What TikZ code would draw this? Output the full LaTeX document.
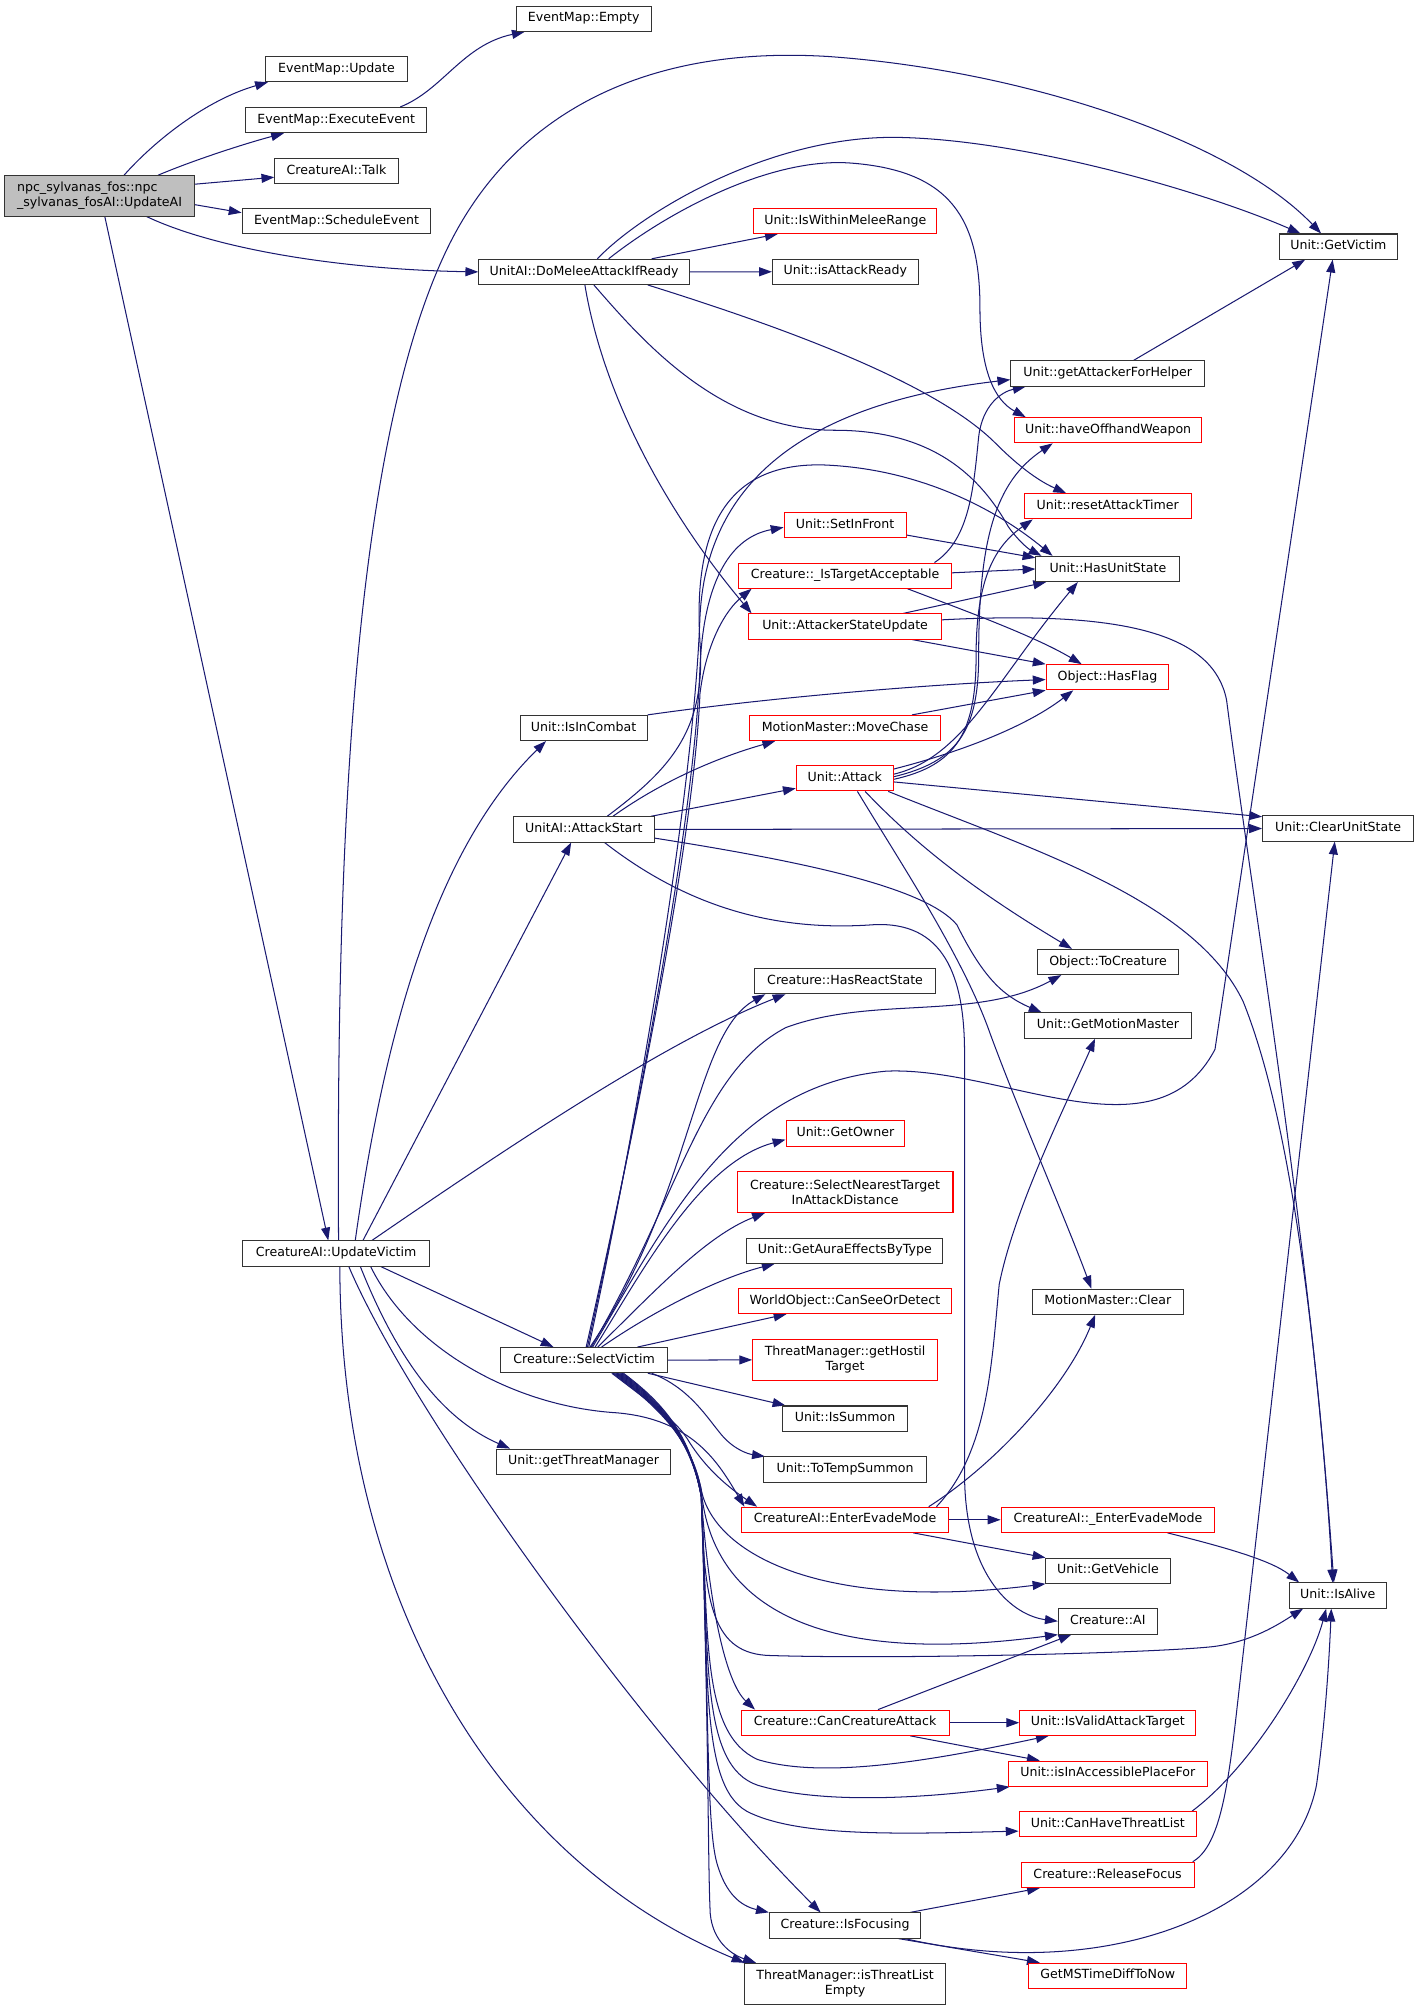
\documentclass[tikz,border=0pt]{standalone}
\usepackage{fontspec}
\setmainfont{DejaVu Sans}
\usetikzlibrary{arrows.meta}
\definecolor{edgec}{HTML}{191970}
\definecolor{rootgray}{HTML}{BFBFBF}
\definecolor{boxline}{HTML}{333333}
\pgfdeclarelayer{edgelayer}
\pgfsetlayers{edgelayer,main}
\tikzset{
  nb/.style={draw=boxline, line width=0.8pt, fill=white, font=\fontsize{9.8}{11.6}\selectfont,
    minimum height=19.6pt, inner xsep=2pt, inner ysep=0pt, text height=7.2pt, text depth=2.2pt},
  nr/.style={nb, draw=red},
  nbtwo/.style={draw=boxline, line width=0.8pt, fill=white, font=\fontsize{9.8}{11.6}\selectfont,
    align=center, minimum height=31.6pt, inner xsep=2pt, inner ysep=2pt},
  nrtwo/.style={nbtwo, draw=red},
  rootbox/.style={nbtwo, fill=rootgray, align=left, inner xsep=8.5pt, minimum height=31.4pt},
  e/.style={draw=edgec, line width=0.8pt, -{Triangle[length=10pt,width=7pt]}}
}
\begin{document}
\begin{tikzpicture}[x=1pt,y=-1pt]
\useasboundingbox (0,0) rectangle (1105,1565);
% nodes
\node[rootbox, minimum width=148pt] (A) at (77.5,152.5) {npc\_sylvanas\_fos::npc\\\_sylvanas\_fosAI::UpdateAI};
\node[nb, minimum width=110pt] (EU) at (262,53.8) {EventMap::Update};
\node[nb, minimum width=140.5pt] (EE) at (261.75,93.5) {EventMap::ExecuteEvent};
\node[nb, minimum width=96pt] (CT) at (262,133) {CreatureAI::Talk};
\node[nb, minimum width=147pt] (ES) at (262,172.3) {EventMap::ScheduleEvent};
\node[nb, minimum width=105pt] (EM) at (454.5,14.5) {EventMap::Empty};
\node[nb, minimum width=164pt] (D) at (454.8,211.7) {UnitAI::DoMeleeAttackIfReady};
\node[nr, minimum width=142.4pt] (WMR) at (658.2,172) {Unit::IsWithinMeleeRange};
\node[nb, minimum width=113.5pt] (IAR) at (658.2,211.6) {Unit::isAttackReady};
\node[nb, minimum width=92pt] (GV) at (1042,192) {Unit::GetVictim};
\node[nb, minimum width=151pt] (GAH) at (862.5,290.8) {Unit::getAttackerForHelper};
\node[nr, minimum width=145.6pt] (HOW) at (862.8,335) {Unit::haveOffhandWeapon};
\node[nr, minimum width=130pt] (RAT) at (862.5,394.2) {Unit::resetAttackTimer};
\node[nr, minimum width=95pt] (SIF) at (658,408.8) {Unit::SetInFront};
\node[nb, minimum width=112pt] (HUS) at (862.6,443) {Unit::HasUnitState};
\node[nr, minimum width=166pt] (ITA) at (658,448.2) {Creature::\_IsTargetAcceptable};
\node[nr, minimum width=150pt] (ASU) at (658,487.8) {Unit::AttackerStateUpdate};
\node[nr, minimum width=95.5pt] (HF) at (862.3,527.3) {Object::HasFlag};
\node[nb, minimum width=99pt] (IIC) at (454.4,566.8) {Unit::IsInCombat};
\node[nr, minimum width=149pt] (MC) at (658,566.8) {MotionMaster::MoveChase};
\node[nr, minimum width=75.4pt] (AT) at (657.7,606) {Unit::Attack};
\node[nb, minimum width=110pt] (S) at (454.6,645.8) {UnitAI::AttackStart};
\node[nb, minimum width=117.5pt] (CUS) at (1041.8,645.1) {Unit::ClearUnitState};
\node[nb, minimum width=109.3pt] (TC) at (862.7,749) {Object::ToCreature};
\node[nb, minimum width=141pt] (HRS) at (658,763.9) {Creature::HasReactState};
\node[nb, minimum width=130.6pt] (GMM) at (862.7,798.5) {Unit::GetMotionMaster};
\node[nr, minimum width=92.4pt] (GO) at (658.2,882.5) {Unit::GetOwner};
\node[nrtwo, minimum width=168pt] (SNT) at (658,928.2) {Creature::SelectNearestTarget\\InAttackDistance};
\node[nb, minimum width=152.5pt] (GAE) at (657.8,973.8) {Unit::GetAuraEffectsByType};
\node[nr, minimum width=166.3pt] (CSD) at (657.9,1013) {WorldObject::CanSeeOrDetect};
\node[nb, minimum width=117pt] (MMC) at (862.6,1013.5) {MotionMaster::Clear};
\node[nrtwo, minimum width=144pt] (GHT) at (658,1058.8) {ThreatManager::getHostil\\Target};
\node[nb, minimum width=145.4pt] (V) at (261.7,976) {CreatureAI::UpdateVictim};
\node[nb, minimum width=130pt] (SV) at (454.8,1059) {Creature::SelectVictim};
\node[nb, minimum width=97.3pt] (IS) at (658,1104.5) {Unit::IsSummon};
\node[nb, minimum width=135.8pt] (GTM) at (454.4,1138.1) {Unit::getThreatManager};
\node[nb, minimum width=126.7pt] (TTS) at (658,1144.2) {Unit::ToTempSummon};
\node[nr, minimum width=161pt] (EEM) at (658,1183.3) {CreatureAI::EnterEvadeMode};
\node[nr, minimum width=166.5pt] (EEMB) at (862.7,1183.3) {CreatureAI::\_EnterEvadeMode};
\node[nb, minimum width=96.6pt] (GVh) at (862.7,1223) {Unit::GetVehicle};
\node[nb, minimum width=75.3pt] (IA) at (1041.6,1242.3) {Unit::IsAlive};
\node[nb, minimum width=77pt] (CAI) at (862.5,1262.5) {Creature::AI};
\node[nr, minimum width=162pt] (CCA) at (658,1341.3) {Creature::CanCreatureAttack};
\node[nr, minimum width=137pt] (IVAT) at (862.5,1341.3) {Unit::IsValidAttackTarget};
\node[nr, minimum width=155pt] (IAPF) at (862.5,1381) {Unit::isInAccessiblePlaceFor};
\node[nr, minimum width=138pt] (CHTL) at (862.5,1420.4) {Unit::CanHaveThreatList};
\node[nr, minimum width=134.7pt] (RF) at (862.4,1459.8) {Creature::ReleaseFocus};
\node[nb, minimum width=118pt] (IF) at (658,1499.2) {Creature::IsFocusing};
\node[nr, minimum width=123pt] (GMS) at (862.5,1538.3) {GetMSTimeDiffToNow};
\node[nbtwo, minimum width=156pt, minimum height=32pt] (TLE) at (658,1544.6) {ThreatManager::isThreatList\\Empty};

\begin{pgfonlayer}{edgelayer}
% root
\draw[e] ([xshift=93.5pt]A.north west) .. controls (120,110) and (160,78) .. ([xshift=2pt]EU.south west);
\draw[e] ([xshift=120pt]A.north west) .. controls (150,125) and (190,112) .. ([xshift=30pt]EE.south west);
\draw[e] ([yshift=-7pt]A.north east) -- ([yshift=-5pt]CT.west);
\draw[e] ([yshift=-23pt]A.north east) -- ([yshift=-3.5pt]ES.north west);
\draw[e] ([xshift=111pt]A.south west) .. controls (170,195) and (270,210) .. (D.west);
\draw[e] ([xshift=78.5pt]A.south west) -- ([xshift=67pt]V.north west);
\draw[e] ([xshift=120.5pt]EE.north west) .. controls (345,70) and (360,35) .. ([xshift=7pt]EM.south west);
% DoMeleeAttackIfReady
\draw[e] ([xshift=135pt]D.north west) -- ([xshift=19pt]WMR.south west);
\draw[e] (D.east) -- (IAR.west);
\draw[e] ([xshift=92.7pt]D.north west) .. controls (500,165) and (600,105) .. (700,107) .. controls (800,109) and (940,150) .. ([xshift=17pt]GV.north west);
\draw[e] ([xshift=101.5pt]D.north west) .. controls (520,165) and (600,122) .. (663,127) .. controls (740,133) and (763,170) .. (763,240) .. controls (763,290) and (775,312) .. ([xshift=9pt]HOW.north west);
\draw[e] ([xshift=132pt]D.south west) .. controls (620,258) and (730,300) .. (775,345) .. controls (795,365) and (810,375) .. ([xshift=33pt]RAT.north west);
\draw[e] ([xshift=90pt]D.south west) .. controls (500,265) and (560,335) .. (650,335) .. controls (720,335) and (760,365) .. (785,410) .. controls (792,420) and (800,427) .. ([xshift=4.7pt]HUS.north west);
\draw[e] ([xshift=83pt]D.south west) .. controls (470,310) and (520,400) .. ([xshift=2.6pt]ASU.north west);
% GetVictim
\draw[e] ([xshift=96pt]GAH.north west) -- ([xshift=20.6pt]GV.south west);
\draw[e] ([xshift=75pt]V.north west) .. controls (262,700) and (270,350) .. (350,190) .. controls (400,90) and (500,35) .. (645,44) .. controls (800,55) and (960,110) .. ([xshift=33pt]GV.north west);
% SelectVictim upward
\draw[e] ([xshift=72pt]SV.north west) .. controls (520,950) and (570,845) .. (690,834) .. controls (780,830) and (900,905) .. (946,817) -- ([xshift=42pt]GV.south west);
\draw[e] ([xshift=68pt]SV.north west) .. controls (490,900) and (540,650) .. (545,520) .. controls (548,450) and (570,418) .. ([yshift=-12pt]SIF.north west);
\draw[e] ([xshift=67pt]SV.north west) .. controls (490,900) and (540,660) .. (545,540) .. controls (550,500) and (565,475) .. ([xshift=10.6pt]ITA.south west);
\draw[e] ([xshift=69pt]SV.north west) .. controls (495,880) and (540,620) .. (545,480) .. controls (550,380) and (620,315) .. ([yshift=-15pt]GAH.north west);
\draw[e] ([xshift=70pt]SV.north west) .. controls (540,930) and (540,805) .. ([xshift=8.8pt]HRS.south west);
\draw[e] ([xshift=71pt]SV.north west) .. controls (530,930) and (545,835) .. (612,800) .. controls (680,775) and (760,795) .. ([xshift=18.7pt]TC.south west);
\draw[e] ([xshift=74pt]SV.north west) .. controls (500,990) and (545,905) .. ([yshift=-15pt]GO.north west);
\draw[e] ([xshift=76pt]SV.north west) .. controls (510,1005) and (550,962) .. ([xshift=22pt]SNT.south west);
\draw[e] ([xshift=79pt]SV.north west) .. controls (510,1020) and (560,995) .. ([xshift=22pt]GAE.south west);
\draw[e] ([xshift=107pt]SV.north west) -- ([xshift=38pt]CSD.south west);
\draw[e] (SV.east) -- (GHT.west);
% middle column
\draw[e] ([yshift=-18pt]SIF.north east) -- ([yshift=-1.5pt]HUS.north west);
\draw[e] ([yshift=-8pt]ITA.north east) -- (HUS.west);
\draw[e] ([xshift=132pt]ITA.south west) .. controls (750,475) and (805,495) .. ([xshift=28pt]HF.north west);
\draw[e] ([xshift=153pt]ITA.north west) .. controls (755,420) and (758,380) .. (762,340) .. controls (765,315) and (780,305) .. ([xshift=12pt]GAH.south west);
\draw[e] ([xshift=120.7pt]ASU.north west) -- ([xshift=8.3pt]HUS.south west);
\draw[e] ([xshift=127.7pt]ASU.south west) -- (HF.north west);
\draw[e] ([yshift=-5pt]ASU.north east) .. controls (880,475) and (945,495) .. (955,545) .. controls (975,700) and (1025,1000) .. ([xshift=34pt]IA.north west);
\draw[e] (IIC.north east) .. controls (600,543) and (720,533) .. ([yshift=-12pt]HF.north west);
\draw[e] ([xshift=127pt]MC.north west) -- (HF.south west);
% Attack
\draw[e] ([yshift=-3pt]AT.north east) .. controls (750,585) and (800,565) .. ([xshift=21.5pt]HF.south west);
\draw[e] ([yshift=-7pt]AT.north east) .. controls (750,590) and (775,530) .. ([xshift=33pt]HUS.south west);
\draw[e] ([yshift=-9pt]AT.north east) .. controls (745,593) and (762,570) .. (762,510) .. controls (762,420) and (775,375) .. ([xshift=30pt]HOW.south west);
\draw[e] ([yshift=-11pt]AT.north east) .. controls (745,596) and (760,570) .. (760,510) .. controls (760,450) and (775,425) .. ([xshift=7pt]RAT.south west);
\draw[e] ([yshift=-13pt]AT.north east) -- ([yshift=-1pt]CUS.north west);
\draw[e] ([xshift=54pt]AT.south west) .. controls (720,665) and (770,700) .. ([xshift=27pt]TC.north west);
\draw[e] ([xshift=48pt]AT.south west) .. controls (700,670) and (750,745) .. (771,805) .. controls (795,870) and (830,950) .. ([xshift=46pt]MMC.north west);
\draw[e] ([xshift=72pt]AT.south west) .. controls (800,660) and (930,700) .. (968,780) .. controls (1000,860) and (1022,1000) .. ([xshift=35pt]IA.north west);
% AttackStart
\draw[e] ([xshift=73.5pt]S.north west) .. controls (520,600) and (550,570) .. (545,500) .. controls (540,420) and (560,360) .. (641,362) .. controls (720,365) and (780,400) .. ([xshift=13.3pt]HUS.north west);
\draw[e] ([xshift=78pt]S.north west) .. controls (520,605) and (565,588) .. ([xshift=20.5pt]MC.south west);
\draw[e] ([xshift=107.5pt]S.north west) -- ([yshift=-18pt]AT.north west);
\draw[e] (S.east) -- (CUS.west);
\draw[e] ([yshift=-17pt]S.north east) .. controls (620,670) and (720,690) .. (745,720) .. controls (765,760) and (780,775) .. ([xshift=14pt]GMM.north west);
\draw[e] ([xshift=71.5pt]S.south west) .. controls (540,710) and (610,725) .. (680,720) .. controls (735,717) and (751,760) .. (751,820) -- (751,1150) .. controls (752,1230) and (790,1258) .. ([yshift=-10pt]CAI.north west);
% UpdateVictim
\draw[e] ([xshift=88pt]V.north west) .. controls (300,800) and (340,660) .. ([xshift=20.6pt]IIC.south west);
\draw[e] ([xshift=94pt]V.north west) -- ([xshift=45.5pt]S.south west);
\draw[e] ([xshift=101pt]V.north west) .. controls (400,890) and (520,810) .. ([xshift=24.5pt]HRS.south west);
\draw[e] ([xshift=108pt]V.south west) -- ([xshift=41.6pt]SV.north west);
\draw[e] ([xshift=92pt]V.south west) .. controls (310,1060) and (345,1105) .. ([xshift=11pt]GTM.north west);
\draw[e] ([xshift=100pt]V.south west) .. controls (320,1050) and (400,1095) .. (480,1100) .. controls (540,1105) and (560,1140) .. ([xshift=2.5pt]EEM.north west);
\draw[e] ([xshift=83pt]V.south west) .. controls (320,1100) and (500,1350) .. ([xshift=40.3pt]IF.north west);
\draw[e] ([xshift=76pt]V.south west) .. controls (265,1250) and (390,1450) .. (TLE.north west);
% SelectVictim downward
\draw[e] ([xshift=115pt]SV.south west) -- ([xshift=2.6pt]IS.north west);
\draw[e] ([xshift=118pt]SV.south west) .. controls (535,1080) and (548,1100) .. (560,1115) .. controls (570,1128) and (582,1132) .. ([xshift=1.3pt]TTS.north west);
\draw[e] ([xshift=87pt]SV.south west) .. controls (510,1095) and (525,1105) .. (535,1120) .. controls (550,1145) and (570,1160) .. ([xshift=12.4pt]EEM.north west);
\draw[e] ([xshift=88pt]SV.south west) .. controls (512,1095) and (538,1120) .. (546,1160) .. controls (556,1210) and (640,1255) .. (GVh.south west);
\draw[e] ([xshift=89pt]SV.south west) .. controls (513,1095) and (538,1120) .. (546,1160) .. controls (553,1240) and (620,1300) .. (CAI.south west);
\draw[e] ([xshift=90pt]SV.south west) .. controls (514,1095) and (538,1120) .. (546,1165) .. controls (548,1250) and (555,1288) .. (600,1289) .. controls (700,1292) and (900,1287) .. (945,1282) .. controls (975,1278) and (995,1265) .. ([xshift=11pt]IA.south west);
\draw[e] ([xshift=91pt]SV.south west) .. controls (515,1095) and (538,1120) .. (546,1165) .. controls (552,1250) and (565,1310) .. ([xshift=11.3pt]CCA.north west);
\draw[e] ([xshift=92pt]SV.south west) .. controls (516,1095) and (538,1120) .. (546,1165) .. controls (552,1270) and (545,1350) .. (590,1370) .. controls (640,1385) and (720,1372) .. ([xshift=23pt]IVAT.south west);
\draw[e] ([xshift=93pt]SV.south west) .. controls (517,1095) and (538,1120) .. (546,1165) .. controls (552,1290) and (545,1375) .. (590,1390) .. controls (640,1405) and (720,1400) .. ([xshift=1.5pt]IAPF.south west);
\draw[e] ([xshift=94pt]SV.south west) .. controls (518,1095) and (538,1120) .. (546,1165) .. controls (552,1310) and (545,1395) .. (585,1412) .. controls (625,1430) and (700,1428) .. ([yshift=-15.5pt]CHTL.north west);
\draw[e] ([xshift=95pt]SV.south west) .. controls (519,1095) and (538,1120) .. (546,1165) .. controls (552,1330) and (550,1420) .. (558,1450) .. controls (565,1475) and (577,1484) .. (IF.north west);
\draw[e] ([xshift=96pt]SV.south west) .. controls (520,1095) and (538,1120) .. (546,1165) .. controls (552,1350) and (551,1450) .. (553,1490) .. controls (555,1512) and (570,1522) .. ([xshift=9pt]TLE.north west);
% EnterEvadeMode
\draw[e] (EEM.east) -- (EEMB.west);
\draw[e] ([xshift=134pt]EEM.south west) -- (GVh.north west);
\draw[e] ([xshift=146pt]EEM.north west) .. controls (775,1140) and (830,1080) .. ([xshift=49pt]MMC.south west);
\draw[e] ([xshift=152pt]EEM.north west) .. controls (770,1130) and (772,1060) .. (778,1000) .. controls (790,940) and (830,860) .. ([xshift=55.6pt]GMM.south west);
\draw[e] ([xshift=130pt]EEMB.south west) .. controls (955,1205) and (990,1215) .. ([xshift=8pt]IA.north west);
% CanCreatureAttack
\draw[e] (CCA.east) -- (IVAT.west);
\draw[e] ([xshift=132pt]CCA.south west) -- ([xshift=25pt]IAPF.north west);
\draw[e] ([xshift=107pt]CCA.north west) -- ([xshift=10.6pt]CAI.south west);
% lower right
\draw[e] ([xshift=135pt]CHTL.north west) .. controls (975,1375) and (1020,1300) .. ([xshift=29pt]IA.south west);
\draw[e] ([xshift=134pt]RF.north west) .. controls (948,1438) and (955,1400) .. (962,1340) -- ([xshift=56.6pt]CUS.south west);
\draw[e] ([xshift=110pt]IF.north west) -- ([xshift=15pt]RF.south west);
\draw[e] ([xshift=101pt]IF.south west) -- ([xshift=9pt]GMS.north west);
\draw[e] ([xshift=106pt]IF.south west) .. controls (860,1545) and (1005,1490) .. (1025,1390) .. controls (1032,1340) and (1035,1290) .. ([xshift=33pt]IA.south west);
\end{pgfonlayer}
\end{tikzpicture}
\end{document}
